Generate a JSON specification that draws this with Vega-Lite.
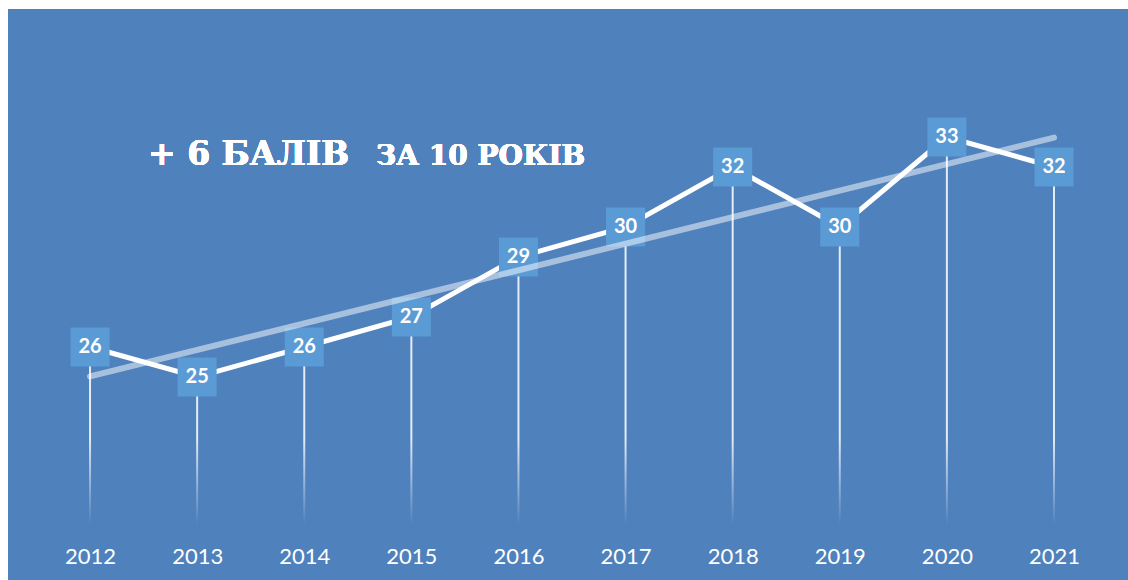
{
  "$schema": "https://vega.github.io/schema/vega-lite/v6.json",
  "width": 1120,
  "height": 571,
  "padding": {"left": 8, "top": 9, "right": 0, "bottom": 0},
  "autosize": {"type": "none"},
  "background": "#ffffff",
  "config": {
    "view": {"fill": "#4F81BD", "stroke": null}
  },
  "data": {
    "values": [
      {"year": 2012, "value": 26},
      {"year": 2013, "value": 25},
      {"year": 2014, "value": 26},
      {"year": 2015, "value": 27},
      {"year": 2016, "value": 29},
      {"year": 2017, "value": 30},
      {"year": 2018, "value": 32},
      {"year": 2019, "value": 30},
      {"year": 2020, "value": 33},
      {"year": 2021, "value": 32}
    ]
  },
  "encoding": {
    "x": {
      "field": "year",
      "type": "quantitative",
      "scale": {"domain": [2011.234, 2021.691], "nice": false, "zero": false, "padding": 0},
      "axis": {
        "values": [2012, 2013, 2014, 2015, 2016, 2017, 2018, 2019, 2020, 2021],
        "format": "d",
        "title": null,
        "grid": false,
        "domain": false,
        "ticks": false,
        "offset": -24,
        "labelPadding": 0,
        "labelBaseline": "middle",
        "labelFont": "Lato",
        "labelFontSize": 22,
        "labelColor": "#ffffff",
        "labelFlush": false,
        "labelOverlap": false
      }
    },
    "y": {
      "field": "value",
      "type": "quantitative",
      "scale": {"domain": [18.233, 37.267], "nice": false, "zero": false, "padding": 0},
      "axis": null
    }
  },
  "layer": [
    {
      "mark": {"type": "rule", "color": "#ffffff", "strokeWidth": 2, "opacity": 0.85},
      "encoding": {"y2": {"datum": 23}}
    },
    {
      "mark": {
        "type": "bar",
        "width": 2,
        "fill": {
          "gradient": "linear",
          "x1": 0, "y1": 0, "x2": 0, "y2": 1,
          "stops": [
            {"offset": 0, "color": "rgba(255,255,255,0.85)"},
            {"offset": 1, "color": "rgba(255,255,255,0)"}
          ]
        }
      },
      "encoding": {"y": {"datum": 23}, "y2": {"datum": 20.07}}
    },
    {
      "mark": {"type": "line", "color": "#ffffff", "strokeWidth": 5, "strokeJoin": "miter"}
    },
    {
      "mark": {"type": "square", "size": 1520, "fill": "#5B9BD5", "opacity": 1, "strokeWidth": 0}
    },
    {
      "mark": {"type": "text", "font": "Lato", "fontWeight": "bold", "fontSize": 20, "color": "#ffffff", "baseline": "middle", "align": "center"},
      "encoding": {"text": {"field": "value", "type": "quantitative"}}
    },
    {
      "transform": [{"regression": "value", "on": "year", "method": "linear", "extent": [2012, 2021]}],
      "mark": {"type": "line", "color": "#ffffff", "strokeWidth": 6, "opacity": 0.5, "strokeCap": "round"}
    },
    {
      "mark": {"type": "text", "text": "+ 6 БАЛІВ", "font": "DejaVu Serif", "fontWeight": "bold", "fontSize": 33, "color": "#ffffff", "align": "left", "baseline": "alphabetic"},
      "encoding": {"x": {"datum": 2012.541}, "y": {"datum": 32.067}}
    },
    {
      "mark": {"type": "text", "text": "ЗА 10 РОКІВ", "font": "DejaVu Serif", "fontWeight": "bold", "fontSize": 28, "color": "#ffffff", "align": "left", "baseline": "alphabetic"},
      "encoding": {"x": {"datum": 2014.670}, "y": {"datum": 32.067}}
    }
  ]
}
